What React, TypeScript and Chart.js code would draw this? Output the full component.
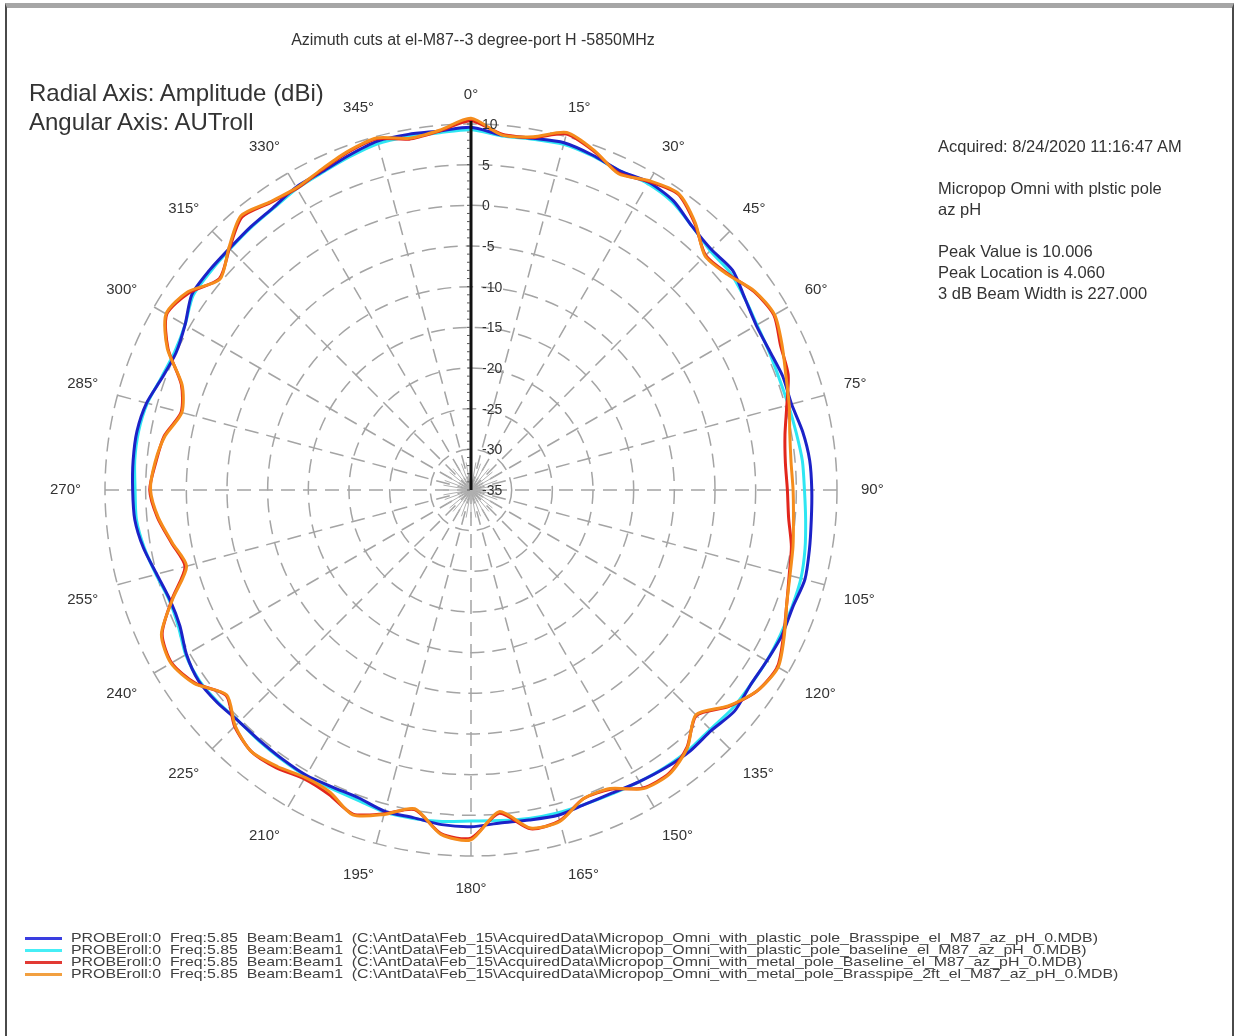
import React, { useEffect, useLayoutEffect, useRef } from 'react';
import { Chart, registerables } from 'chart.js';

Chart.register(...registerables);

// ---- data (degrees, dBi) ----
const ANGLES = [
  0, 5, 10, 15, 20, 25, 30, 35, 40, 45, 50, 55,
  60, 65, 70, 75, 80, 85, 90, 95, 100, 105, 110, 115,
  120, 125, 130, 135, 140, 145, 150, 155, 160, 165, 170, 175,
  180, 185, 190, 195, 200, 205, 210, 215, 220, 225, 230, 235,
  240, 245, 250, 255, 260, 265, 270, 275, 280, 285, 290, 295,
  300, 305, 310, 315, 320, 325, 330, 335, 340, 345, 350, 355,
];
const ANGLE_TICKS = [0, 15, 30, 45, 60, 75, 90, 105, 120, 135, 150, 165, 180, 195, 210, 225, 240, 255, 270, 285, 300, 315, 330, 345];
const RADIAL_TICKS = [10, 5, 0, -5, -10, -15, -20, -25, -30, -35];

const BLUE = [
  9.6, 8.8, 8.9, 9.2, 8.8, 8.3, 8.7, 8.4, 7.3, 6.8, 7.0, 6.1,
  5.5, 5.5, 5.8, 5.8, 6.4, 6.8, 6.9, 7.0, 7.25, 7.5, 7.1, 7.2,
  7.0, 6.9, 7.3, 6.8, 6.9, 6.7, 6.4, 6.1, 6.1, 6.4, 6.2, 6.1,
  6.4, 6.3, 5.9, 5.9, 5.3, 5.3, 5.5, 5.4, 5.3, 5.3, 5.7, 5.9,
  5.4, 4.5, 4.4, 5.0, 5.9, 6.5, 6.6, 6.7, 6.7, 6.3, 5.4, 5.0,
  5.6, 6.9, 7.0, 7.0, 7.2, 7.4, 8.0, 8.2, 8.8, 9.4, 9.4, 9.3,
];
const CYAN = [
  9.3, 8.7, 8.8, 9.0, 8.7, 8.3, 8.5, 8.2, 7.3, 6.6, 6.6, 6.1,
  5.6, 5.4, 5.3, 5.4, 5.6, 5.9, 6.0, 6.3, 6.7, 7.0, 7.0, 7.0,
  7.0, 6.9, 6.9, 6.6, 6.7, 6.6, 6.4, 6.2, 6.1, 6.1, 6.0, 5.8,
  5.7, 5.9, 6.0, 6.0, 5.6, 5.5, 5.6, 5.5, 5.4, 5.3, 5.6, 5.8,
  5.5, 4.7, 4.5, 5.1, 5.8, 6.3, 6.3, 6.5, 6.5, 6.2, 5.5, 5.2,
  5.6, 6.7, 6.8, 6.9, 7.1, 7.3, 7.8, 8.1, 8.6, 9.1, 9.1, 9.1,
];
const RED = [
  10.4, 8.9, 9.0, 10.3, 9.3, 8.0, 8.8, 9.4, 7.8, 5.8, 6.3, 7.5,
  8.0, 7.0, 6.5, 5.2, 4.2, 3.8, 3.9, 4.2, 5.0, 5.5, 6.3, 7.4,
  8.5, 8.0, 6.4, 4.2, 6.3, 7.5, 7.3, 5.6, 5.4, 7.1, 7.3, 4.9,
  7.8, 7.4, 4.9, 6.2, 7.4, 6.3, 6.0, 6.7, 7.0, 6.1, 4.3, 6.4,
  7.5, 6.9, 4.1, 1.4, 2.4, 3.7, 4.5, 3.9, 3.3, 1.9, 2.9, 6.1,
  8.2, 7.3, 5.4, 7.0, 8.8, 8.1, 7.8, 8.4, 9.2, 9.7, 8.8, 9.3,
];
const ORANGE = [
  10.7, 8.8, 9.1, 10.5, 9.4, 7.9, 8.9, 9.5, 7.9, 5.7, 6.2, 7.6,
  8.1, 7.2, 6.2, 5.5, 4.8, 4.5, 4.6, 4.8, 5.2, 5.6, 6.3, 7.5,
  8.6, 8.0, 6.3, 4.1, 6.4, 7.6, 7.4, 5.5, 5.4, 7.2, 7.2, 4.7,
  8.0, 7.5, 4.8, 6.3, 7.5, 6.0, 5.8, 6.5, 7.0, 6.0, 4.2, 6.5,
  7.6, 7.0, 4.0, 1.2, 2.3, 3.6, 4.4, 4.0, 3.2, 1.8, 2.8, 6.2,
  8.3, 7.5, 5.3, 7.1, 9.0, 8.2, 7.9, 8.5, 9.3, 9.8, 8.9, 9.4,
];

const SERIES_LABELS = [
  'PROBEroll:0  Freq:5.85  Beam:Beam1  (C:\\AntData\\Feb_15\\AcquiredData\\Micropop_Omni_with_plastic_pole_Brasspipe_el_M87_az_pH_0.MDB)',
  'PROBEroll:0  Freq:5.85  Beam:Beam1  (C:\\AntData\\Feb_15\\AcquiredData\\Micropop_Omni_with_plastic_pole_baseline_el_M87_az_pH_0.MDB)',
  'PROBEroll:0  Freq:5.85  Beam:Beam1  (C:\\AntData\\Feb_15\\AcquiredData\\Micropop_Omni_with_metal_pole_Baseline_el_M87_az_pH_0.MDB)',
  'PROBEroll:0  Freq:5.85  Beam:Beam1  (C:\\AntData\\Feb_15\\AcquiredData\\Micropop_Omni_with_metal_pole_Brasspipe_2ft_el_M87_az_pH_0.MDB)',
];
const SERIES_COLORS = ['#1c22c8', '#2ee6f2', '#e2261c', '#f58c1c'];
const LEGEND_COLORS = ['#3a3ee0', '#46eef6', '#e23a34', '#f2a040'];

const TITLE = 'Azimuth cuts at el-M87--3 degree-port H -5850MHz';
const INFO_LINES = [
  { text: 'Acquired: 8/24/2020 11:16:47 AM', y: 146 },
  { text: 'Micropop Omni with plstic pole', y: 188 },
  { text: 'az pH', y: 209 },
  { text: 'Peak Value is 10.006', y: 251 },
  { text: 'Peak Location is 4.060', y: 272 },
  { text: '3 dB Beam Width is 227.000', y: 293 },
];

const FONT = '"Liberation Sans", Arial, sans-serif';

const decorPlugin = {
  id: 'decor',
  beforeDatasetsDraw(chart: any) {
    const s = chart.scales.r;
    const ctx = chart.ctx;
    ctx.save();
    ctx.strokeStyle = '#b0b0b0';
    ctx.lineWidth = 1;
    ANGLES.forEach((a, i) => {
      if (a % 10 !== 0) return;
      const p = s.getPointPosition(i, 28);
      ctx.beginPath();
      ctx.moveTo(s.xCenter, s.yCenter);
      ctx.lineTo(p.x, p.y);
      ctx.stroke();
    });
    ctx.restore();
  },
  afterDatasetsDraw(chart: any) {
    const s = chart.scales.r;
    const ctx = chart.ctx;
    const cx = s.xCenter;
    const cy = s.yCenter;
    ctx.save();
    // radial axis line
    ctx.strokeStyle = '#111';
    ctx.lineWidth = 3;
    ctx.beginPath();
    ctx.moveTo(cx, cy);
    ctx.lineTo(cx, cy - s.drawingArea - 3);
    ctx.stroke();
    ctx.lineWidth = 1;
    ctx.strokeStyle = '#555';
    for (let v = -35; v <= 10; v += 1) {
      const y = cy - s.getDistanceFromCenterForValue(v);
      ctx.beginPath();
      ctx.moveTo(cx - 4, y);
      ctx.lineTo(cx - 1, y);
      ctx.stroke();
    }
    // radial tick labels
    ctx.fillStyle = '#333';
    ctx.font = `14px ${FONT}`;
    ctx.textAlign = 'left';
    ctx.textBaseline = 'middle';
    RADIAL_TICKS.forEach((v) => {
      const y = cy - s.getDistanceFromCenterForValue(v);
      ctx.fillText(String(v), cx + 11, y + 1);
    });
    // angular labels
    ctx.font = `15px ${FONT}`;
    ANGLE_TICKS.forEach((a) => {
      const idx = ANGLES.indexOf(a);
      const p = s.getPointPosition(idx, s.drawingArea + 24);
      let x = p.x;
      let y = p.y;
      if (a === 0 || a === 180) {
        ctx.textAlign = 'center';
      } else if (a < 180) {
        ctx.textAlign = 'left';
        if (a !== 90) x -= 4;
      } else {
        ctx.textAlign = 'right';
        if (a !== 270) x += 4;
      }
      if (a === 90 || a === 270) {
        ctx.textBaseline = 'middle';
      } else if (a < 90 || a > 270) {
        ctx.textBaseline = 'bottom';
        y += 2;
      } else {
        ctx.textBaseline = 'top';
        y += 1;
      }
      ctx.fillText(`${a}°`, x, y);
    });
    ctx.restore();
  },
};

export default function App() {
  const canvasRef = useRef<HTMLCanvasElement | null>(null);
  const legendRefs = useRef<(HTMLSpanElement | null)[]>([]);

  useLayoutEffect(() => {
    const first = legendRefs.current[0];
    if (!first) return;
    const w = first.getBoundingClientRect().width;
    const k = w > 0 ? 1027 / w : 1;
    legendRefs.current.forEach((el) => {
      if (el) el.style.transform = `scaleX(${k})`;
    });
  }, []);

  useEffect(() => {
    if (!canvasRef.current) return;
    const datasets = [
      { label: SERIES_LABELS[0], data: BLUE, borderColor: SERIES_COLORS[0], order: 2 },
      { label: SERIES_LABELS[1], data: CYAN, borderColor: SERIES_COLORS[1], order: 3 },
      { label: SERIES_LABELS[2], data: RED, borderColor: SERIES_COLORS[2], order: 1 },
      { label: SERIES_LABELS[3], data: ORANGE, borderColor: SERIES_COLORS[3], order: 0 },
    ].map((d) => ({
      ...d,
      backgroundColor: 'rgba(0,0,0,0)',
      borderWidth: 3,
      pointRadius: 0,
      pointHoverRadius: 0,
      fill: false,
      tension: 0.25,
      clip: false as any,
    }));

    const chart = new Chart(canvasRef.current, {
      type: 'radar',
      data: { labels: ANGLES.map((a) => `${a}°`), datasets },
      options: {
        responsive: false,
        animation: false,
        devicePixelRatio: 1,
        layout: { padding: { left: 105, top: 124, right: 399, bottom: 180 } },
        plugins: { legend: { display: false }, tooltip: { enabled: false } },
        scales: {
          r: {
            min: -35,
            max: 10,
            startAngle: 0,
            ticks: { display: false, stepSize: 5 },
            pointLabels: { display: false },
            grid: { circular: true, color: '#a4a4a4', lineWidth: 1.5, borderDash: [14, 8] } as any,
            border: { dash: [14, 8] } as any,
            angleLines: {
              display: true,
              color: '#a4a4a4',
              lineWidth: (ctx: any) => (ANGLES[ctx.index] % 15 === 0 ? 1.5 : 0),
              borderDash: [14, 8],
            } as any,
          },
        },
      },
      plugins: [decorPlugin as any],
    });
    return () => chart.destroy();
  }, []);

  return (
    <div style={{ position: 'fixed', left: 0, top: 0, width: 1236, height: 1036, background: '#fff', overflow: 'hidden', fontFamily: FONT, color: '#333' }}>
      <div style={{ position: 'absolute', left: 5, top: 3, width: 1225, height: 1040, borderTop: '5px solid #a6a6a6', borderLeft: '2px solid #4a4a4a', borderRight: '2px solid #4a4a4a' }} />
      <canvas ref={canvasRef} width={1236} height={1036} style={{ position: 'absolute', left: 0, top: 0 }} />
      <div style={{ position: 'absolute', left: 0, width: 946, top: 30, textAlign: 'center', fontSize: 16, lineHeight: '20px', whiteSpace: 'nowrap' }}>{TITLE}</div>
      <div style={{ position: 'absolute', left: 29, top: 79, fontSize: 24, lineHeight: '28px', whiteSpace: 'nowrap' }}>Radial Axis: Amplitude (dBi)</div>
      <div style={{ position: 'absolute', left: 29, top: 108, fontSize: 24, lineHeight: '28px', whiteSpace: 'nowrap' }}>Angular Axis: AUTroll</div>
      {INFO_LINES.map((l) => (
        <div key={l.text} style={{ position: 'absolute', left: 938, top: l.y - 10, fontSize: 16.5, lineHeight: '20px', whiteSpace: 'nowrap' }}>{l.text}</div>
      ))}
      {SERIES_LABELS.map((lab, i) => (
        <div key={lab} style={{ position: 'absolute', left: 25, top: 932 + i * 12, height: 12, whiteSpace: 'nowrap' }}>
          <div style={{ position: 'absolute', left: 0, top: 5, width: 37, height: 3, background: LEGEND_COLORS[i] }} />
          <span
            ref={(el) => { legendRefs.current[i] = el; }}
            style={{ position: 'absolute', left: 46, top: -1, fontSize: 13.5, lineHeight: '13px', color: '#404040', whiteSpace: 'pre', transformOrigin: 'left center', display: 'inline-block' }}
          >{lab}</span>
        </div>
      ))}
    </div>
  );
}
